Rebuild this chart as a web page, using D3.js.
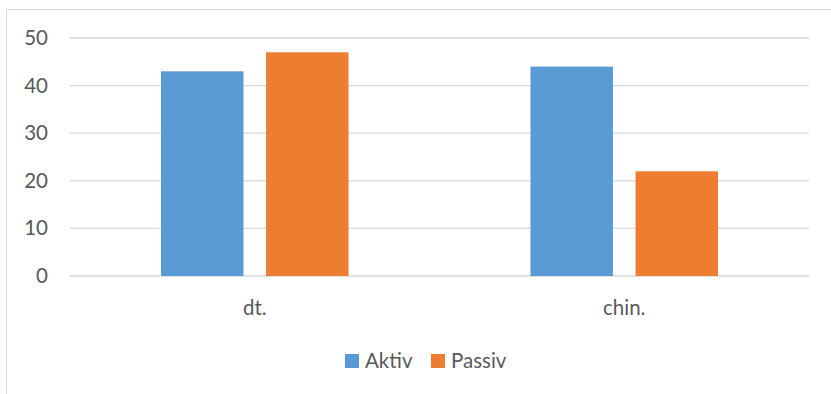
<!DOCTYPE html>
<html>
<head>
<meta charset="utf-8">
<script src="https://cdn.jsdelivr.net/npm/d3@7"></script>
<style>
  body { margin: 0; background: #fff; }
  text { font-family: Lato, "Open Sans", sans-serif; fill: #595959; }
</style>
</head>
<body>
<script>
// chart data
var categories = ["dt.", "chin."];
var seriesNames = ["Aktiv", "Passiv"];
var aktivValues = [43, 44];
var passivValues = [47, 22];
var yTicks = [0, 10, 20, 30, 40, 50];
var colors = ["#5B9BD5", "#ED7D31"];

var svgWidth = 831;
var svgHeight = 394;

var margin = { top: 38, right: 22, bottom: 118, left: 70 };
var width = svgWidth - margin.left - margin.right;
var height = svgHeight - margin.top - margin.bottom;

var svg = d3.select("body")
  .append("svg")
  .attr("width", svgWidth)
  .attr("height", svgHeight);

// outer frame (right and bottom edges run off the picture)
svg.append("rect")
  .attr("x", 6.5)
  .attr("y", 9.5)
  .attr("width", 840)
  .attr("height", 400)
  .attr("fill", "none")
  .attr("stroke", "#d9d9d9")
  .attr("stroke-width", 1);

var chartGroup = svg.append("g")
  .attr("transform", `translate(${margin.left}, ${margin.top})`);

var x0 = d3.scaleBand()
  .domain(categories)
  .range([0, width])
  .padding(0);

var x1 = d3.scaleBand()
  .domain(seriesNames)
  .range([0, x0.bandwidth()])
  .paddingInner(0.215)
  .paddingOuter(0.866);

var y = d3.scaleLinear()
  .domain([0, 50])
  .range([height, 0]);

// gridlines
chartGroup.append("g")
  .selectAll("line")
  .data(yTicks)
  .enter()
  .append("line")
  .attr("x1", 0)
  .attr("x2", width)
  .attr("y1", d => y(d))
  .attr("y2", d => y(d))
  .attr("stroke", "#d9d9d9")
  .attr("stroke-width", 1.3);

// y axis labels
var leftAxis = d3.axisLeft(y).tickValues(yTicks).tickSize(0).tickPadding(22);
var yAxis = chartGroup.append("g").call(leftAxis);
yAxis.select(".domain").remove();
yAxis.selectAll("text")
  .style("font-size", "20.5px")
  .attr("fill", "#595959");

// bars
var rows = categories.map((c, i) => ({
  cat: c,
  vals: [
    { name: seriesNames[0], value: aktivValues[i] },
    { name: seriesNames[1], value: passivValues[i] }
  ]
}));

var groups = chartGroup.selectAll(".cat")
  .data(rows)
  .enter()
  .append("g")
  .attr("transform", d => `translate(${x0(d.cat)}, 0)`);

groups.selectAll("rect")
  .data(d => d.vals)
  .enter()
  .append("rect")
  .attr("x", d => x1(d.name))
  .attr("y", d => y(d.value))
  .attr("width", x1.bandwidth())
  .attr("height", d => height - y(d.value))
  .attr("fill", (d, i) => colors[i]);

// x axis labels
var bottomAxis = d3.axisBottom(x0).tickSize(0).tickPadding(24);
var xAxis = chartGroup.append("g")
  .attr("transform", `translate(0, ${height})`)
  .call(bottomAxis);
xAxis.select(".domain").remove();
xAxis.selectAll("text")
  .style("font-size", "20.5px")
  .attr("fill", "#595959");

// legend
var legendItems = [
  { name: seriesNames[0], color: colors[0], x: 345 },
  { name: seriesNames[1], color: colors[1], x: 431 }
];
var legend = svg.append("g");
legend.selectAll("rect")
  .data(legendItems)
  .enter()
  .append("rect")
  .attr("x", d => d.x)
  .attr("y", 354)
  .attr("width", 14)
  .attr("height", 14)
  .attr("fill", d => d.color);
legend.selectAll("text")
  .data(legendItems)
  .enter()
  .append("text")
  .attr("x", d => d.x + 20)
  .attr("y", 361)
  .attr("dy", "0.35em")
  .style("font-size", "20.5px")
  .text(d => d.name);
</script>
</body>
</html>
